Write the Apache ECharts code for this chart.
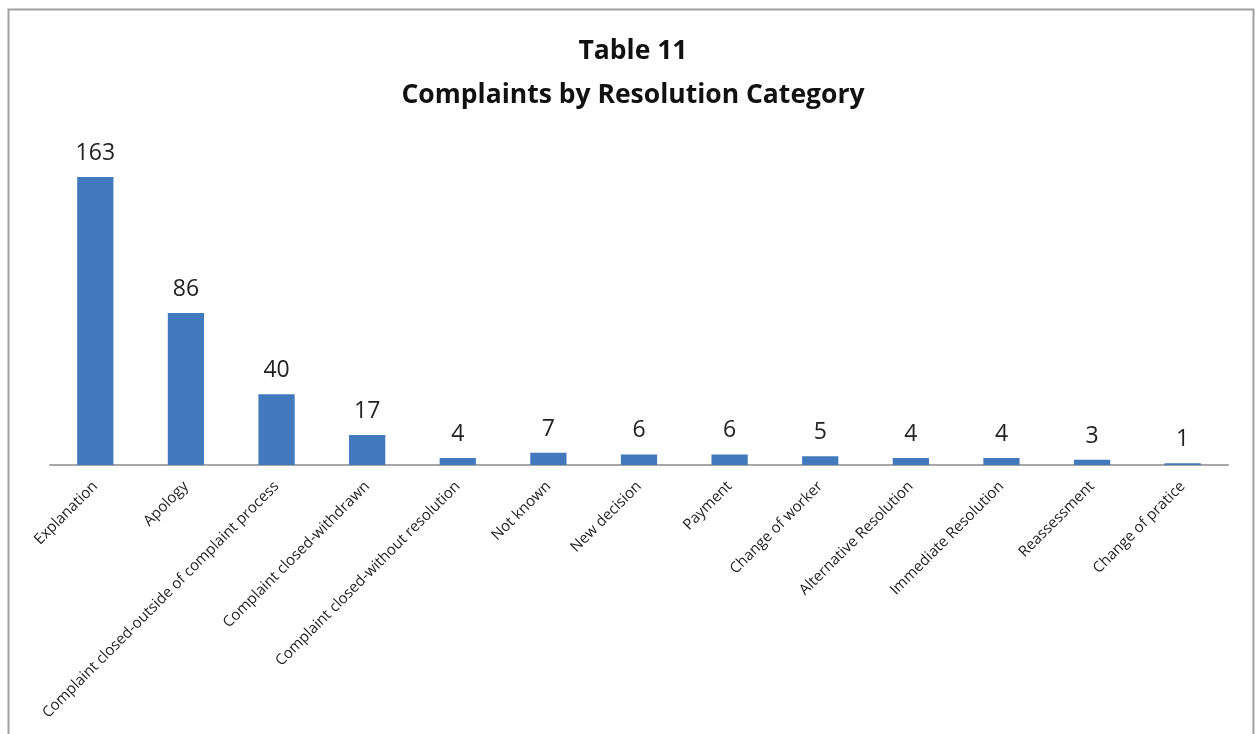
<!DOCTYPE html>
<html>
<head>
<meta charset="utf-8">
<script src="https://cdn.jsdelivr.net/npm/echarts@6/dist/echarts.min.js"></script>
<style>
  html, body { margin: 0; padding: 0; background: #fff; }
  #chart { width: 1255px; height: 734px; }
</style>
</head>
<body>
<div id="chart"></div>
<script>
// Resolution categories and complaint counts
const categories = [
  'Explanation',
  'Apology',
  'Complaint closed-outside of complaint process',
  'Complaint closed-withdrawn',
  'Complaint closed-without resolution',
  'Not known',
  'New decision',
  'Payment',
  'Change of worker',
  'Alternative Resolution',
  'Immediate Resolution',
  'Reassessment',
  'Change of pratice'
];
const complaints = [163, 86, 40, 17, 4, 7, 6, 6, 5, 4, 4, 3, 1];

const titleLines = ['Table 11', 'Complaints by Resolution Category'];

const chart = echarts.init(document.getElementById('chart'));
chart.setOption({
  animation: false,
  backgroundColor: '#ffffff',
  title: {
    text: titleLines.join('\n'),
    left: 628,
    textAlign: 'center',
    top: 24,
    textStyle: {
      fontFamily: 'Open Sans',
      fontWeight: 'bold',
      fontSize: 26.5,
      lineHeight: 44,
      color: '#111'
    }
  },
  graphic: [{
    type: 'rect',
    shape: { x: 8.5, y: 9.5, width: 1245, height: 740 },
    style: { fill: 'none', stroke: '#a0a0a0', lineWidth: 2 },
    silent: true
  }],
  grid: {
    left: 50,
    right: 27,
    top: 147,
    bottom: 269,
    containLabel: false
  },
  xAxis: {
    type: 'category',
    data: categories,
    axisLine: { lineStyle: { color: '#a6a6a6', width: 2 } },
    axisTick: { show: false },
    axisLabel: {
      interval: 0,
      rotate: 45,
      margin: 19,
      fontFamily: 'Open Sans',
      fontSize: 15,
      color: '#222'
    }
  },
  yAxis: {
    type: 'value',
    min: 0,
    max: 180,
    show: false,
    splitLine: { show: false }
  },
  series: [{
    type: 'bar',
    data: complaints,
    barWidth: '40%',
    itemStyle: { color: '#4279bd' },
    label: {
      show: true,
      position: 'top',
      distance: 12,
      fontFamily: 'Open Sans',
      fontSize: 23,
      color: '#222'
    }
  }]
});
</script>
</body>
</html>
